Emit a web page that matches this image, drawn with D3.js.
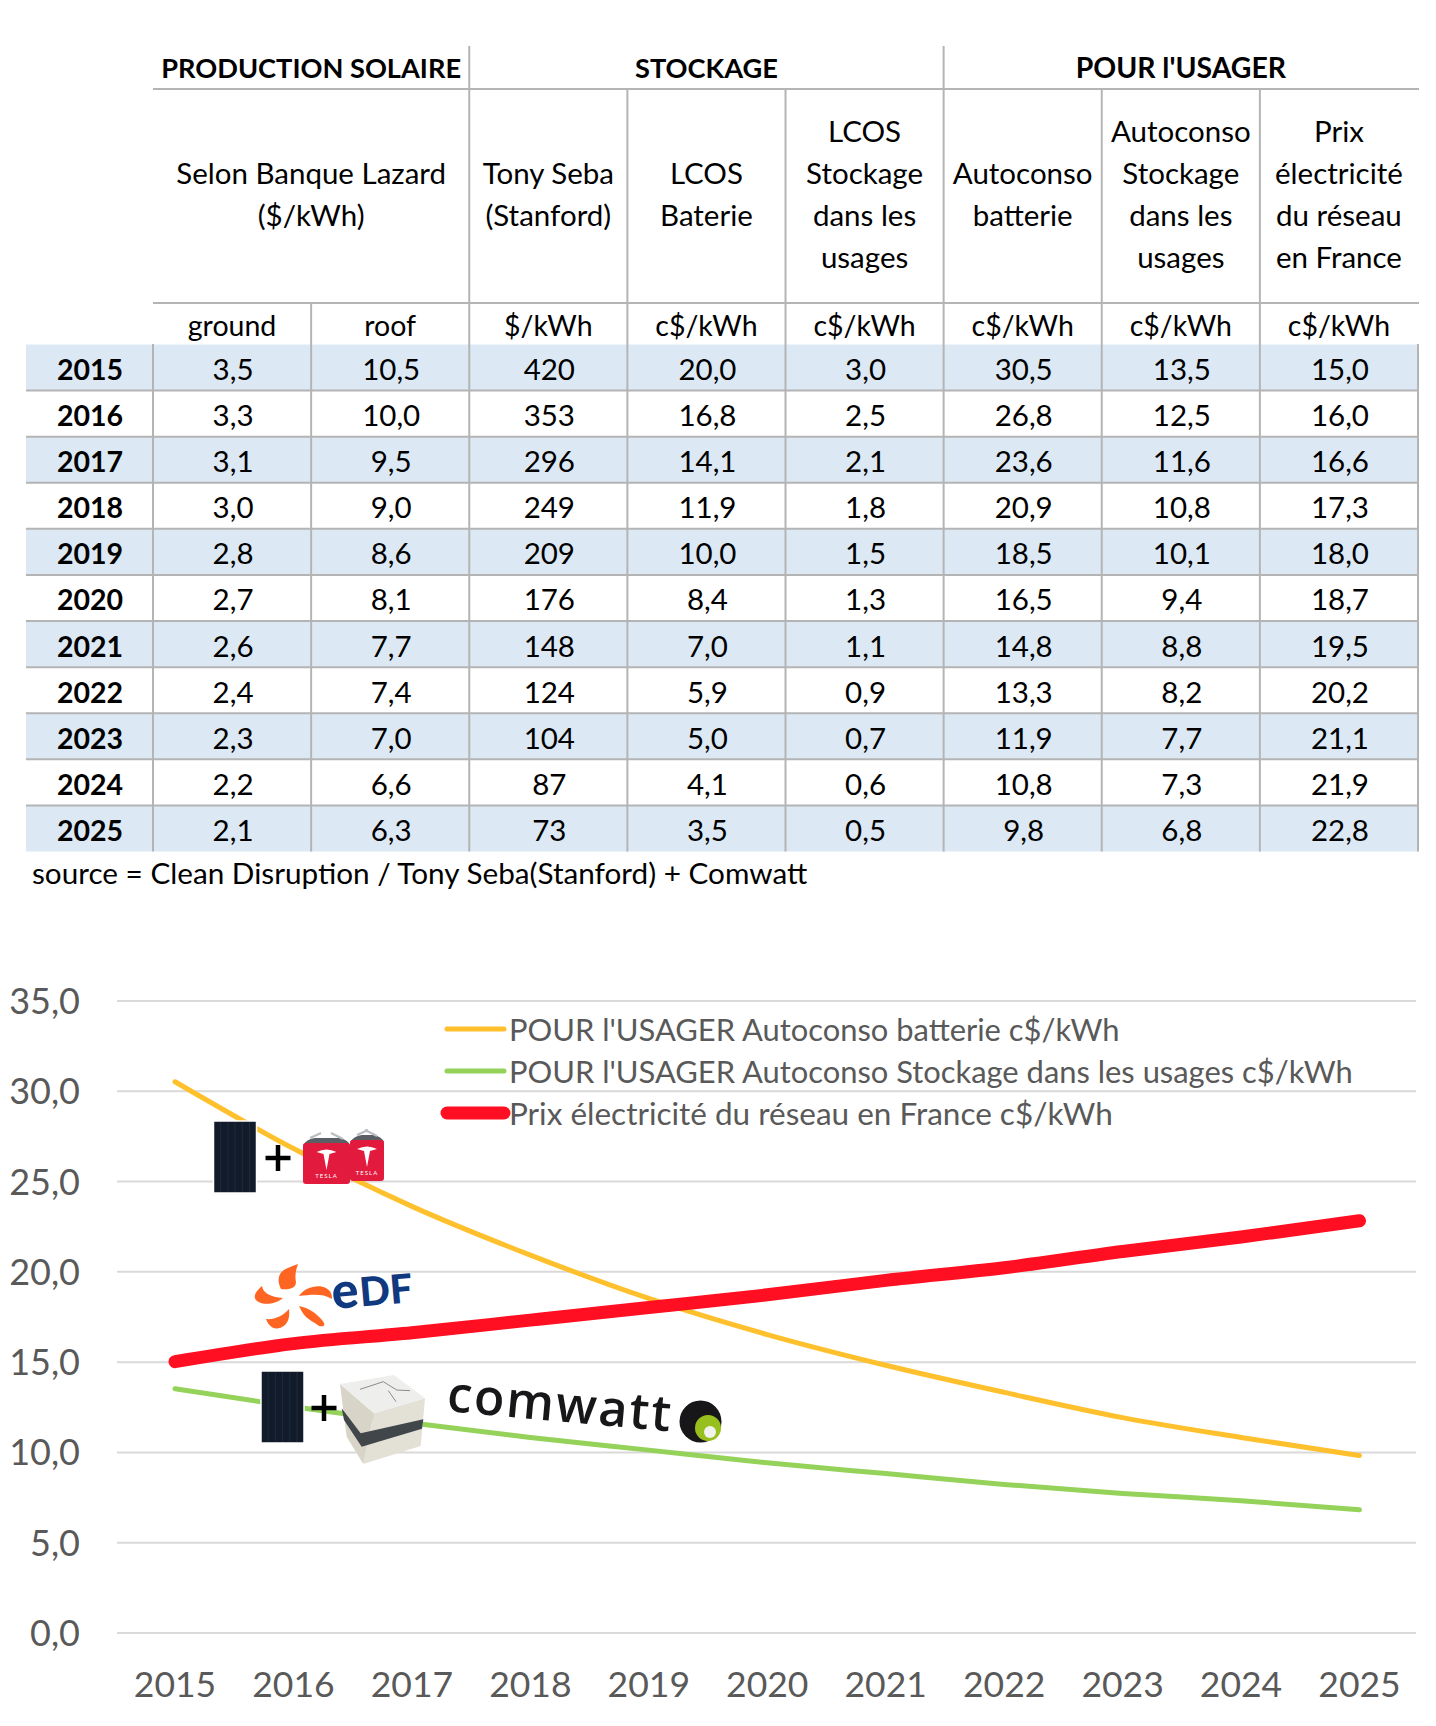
<!DOCTYPE html>
<html lang="fr">
<head>
<meta charset="utf-8">
<title>Production solaire, stockage, usager</title>
<script src="https://cdn.jsdelivr.net/npm/d3@7"></script>
<style>
  body { margin: 0; background: #fff; }
  svg { display: block; }
  text { font-family: Lato, "Open Sans", sans-serif; }
</style>
</head>
<body>
<svg id="chart" width="1436" height="1726"></svg>
<script>
// table + chart data
var years = [2015, 2016, 2017, 2018, 2019, 2020, 2021, 2022, 2023, 2024, 2025];
var ground = [3.5, 3.3, 3.1, 3.0, 2.8, 2.7, 2.6, 2.4, 2.3, 2.2, 2.1];
var roof = [10.5, 10.0, 9.5, 9.0, 8.6, 8.1, 7.7, 7.4, 7.0, 6.6, 6.3];
var seba = [420, 353, 296, 249, 209, 176, 148, 124, 104, 87, 73];
var lcosBatterie = [20.0, 16.8, 14.1, 11.9, 10.0, 8.4, 7.0, 5.9, 5.0, 4.1, 3.5];
var lcosUsages = [3.0, 2.5, 2.1, 1.8, 1.5, 1.3, 1.1, 0.9, 0.7, 0.6, 0.5];
var autoBatterie = [30.5, 26.8, 23.6, 20.9, 18.5, 16.5, 14.8, 13.3, 11.9, 10.8, 9.8];
var autoUsages = [13.5, 12.5, 11.6, 10.8, 10.1, 9.4, 8.8, 8.2, 7.7, 7.3, 6.8];
var prixReseau = [15.0, 16.0, 16.6, 17.3, 18.0, 18.7, 19.5, 20.2, 21.1, 21.9, 22.8];

var columns = [ground, roof, seba, lcosBatterie, lcosUsages, autoBatterie, autoUsages, prixReseau];
var groupHeads = ["PRODUCTION SOLAIRE", "STOCKAGE", "POUR l'USAGER"];
var colHeads = [
  ["Selon Banque Lazard", "($/kWh)"],
  ["Tony Seba", "(Stanford)"],
  ["LCOS", "Baterie"],
  ["LCOS", "Stockage", "dans les", "usages"],
  ["Autoconso", "batterie"],
  ["Autoconso", "Stockage", "dans les", "usages"],
  ["Prix", "électricité", "du réseau", "en France"]
];
var units = ["ground", "roof", "$/kWh", "c$/kWh", "c$/kWh", "c$/kWh", "c$/kWh", "c$/kWh"];
var yTicks = [0, 5, 10, 15, 20, 25, 30, 35];
var legendLabels = [
  "POUR l'USAGER Autoconso batterie c$/kWh",
  "POUR l'USAGER Autoconso Stockage dans les usages c$/kWh",
  "Prix électricité du réseau en France c$/kWh"
];

var svg = d3.select("#chart");
var frFormat = d3.formatLocale({ decimal: ",", thousands: " ", grouping: [3], currency: ["", "$"] }).format(".1f");

// ---- table ----
var colX = d3.scaleLinear().domain([0, 8]).range([153, 1418]);
var rowY = d3.scaleLinear().domain([0, 11]).range([344.5, 851.5]);
var lineColor = "#b4b4b4";
var table = svg.append("g");
var fs = 29.5;

function hline(x1, x2, y) {
  table.append("line").attr("x1", x1).attr("x2", x2).attr("y1", y).attr("y2", y)
    .attr("stroke", lineColor).attr("stroke-width", 2);
}
function vline(x, y1, y2) {
  table.append("line").attr("x1", x).attr("x2", x).attr("y1", y1).attr("y2", y2)
    .attr("stroke", lineColor).attr("stroke-width", 2);
}
function cell(x, y, str, bold, size) {
  return table.append("text").attr("x", x).attr("y", y).attr("text-anchor", "middle")
    .attr("font-size", size || fs).attr("font-weight", bold ? 700 : 400).attr("fill", "#000").text(str);
}

// striped rows
table.selectAll("rect.row").data(years.filter(function (d, i) { return i % 2 === 0; }))
  .enter().append("rect").attr("class", "row")
  .attr("x", 26).attr("width", 1393)
  .attr("y", function (d) { return rowY(years.indexOf(d)); })
  .attr("height", rowY(1) - rowY(0))
  .attr("fill", "#dce9f5");

hline(153, 1419, 89);
hline(153, 1419, 303);
years.forEach(function (y, i) { if (i > 0) hline(26, 1419, rowY(i)); });

[2, 5].forEach(function (c) { vline(colX(c), 46, 89); });
[2, 3, 4, 5, 6, 7].forEach(function (c) { vline(colX(c), 89, 303); });
[1, 2, 3, 4, 5, 6, 7].forEach(function (c) { vline(colX(c), 303, 344); });
[0, 1, 2, 3, 4, 5, 6, 7, 8].forEach(function (c) { vline(colX(c), 344, 851.5); });

// group titles
var groupSizes = [27.2, 27.2, 28.4];
[[0, 2], [2, 5], [5, 8]].forEach(function (span, i) {
  cell((colX(span[0]) + colX(span[1])) / 2, 78, groupHeads[i], true, groupSizes[i]);
});

// column heads, centred around the same line
var headSpans = [[0, 2], [2, 3], [3, 4], [4, 5], [5, 6], [6, 7], [7, 8]];
colHeads.forEach(function (lines, i) {
  var cx = (colX(headSpans[i][0]) + colX(headSpans[i][1])) / 2;
  var top = lines.length === 4 ? 142 : 184;
  lines.forEach(function (s, j) { cell(cx, top + j * 42, s); });
});

units.forEach(function (u, i) { cell(colX(i + 0.5), 336, u, false, 28.5); });

years.forEach(function (y, r) {
  cell(90, rowY(r) + 35.5, y, true, 28.5);
  columns.forEach(function (col, c) {
    cell(colX(c + 0.5) + 1, rowY(r) + 35.5, col === seba ? col[r] : frFormat(col[r]));
  });
});

table.append("text").attr("x", 32).attr("y", 884).attr("font-size", 29.7).attr("fill", "#000")
  .text("source = Clean Disruption / Tony Seba(Stanford) + Comwatt");

// ---- line chart ----
var x = d3.scaleBand().domain(years).range([115.8, 1418.7]);
var y = d3.scaleLinear().domain([0, 35]).range([1632.5, 1000.5]);
var px = function (d) { return x(d) + x.bandwidth() / 2; };
var grey = "#595959";

var yAxis = svg.append("g").attr("transform", "translate(117,0)")
  .call(d3.axisLeft(y).tickValues(yTicks).tickFormat(frFormat).tickSize(-1299).tickPadding(37));
yAxis.select(".domain").remove();
yAxis.selectAll(".tick line").attr("stroke", "#d9d9d9").attr("stroke-width", 2);
yAxis.selectAll(".tick text").attr("fill", grey).attr("font-size", 36).attr("dy", "0.36em")
  .style("font-family", "Lato");

var xAxis = svg.append("g").attr("transform", "translate(0,1697)")
  .call(d3.axisBottom(x).tickSize(0).tickPadding(0));
xAxis.select(".domain").remove();
xAxis.selectAll(".tick text").attr("fill", grey).attr("font-size", 35.5).attr("dy", 0)
  .style("font-family", "Lato");

var series = [
  { values: autoBatterie, color: "#ffc02d", width: 5 },
  { values: autoUsages, color: "#94d25a", width: 5 },
  { values: prixReseau, color: "#ff0f21", width: 13 }
];
var line = d3.line().curve(d3.curveMonotoneX)
  .x(function (d, i) { return px(years[i]); })
  .y(function (d) { return y(d); });

svg.append("g").selectAll("path").data(series).enter().append("path")
  .attr("fill", "none").attr("stroke-linecap", "round").attr("stroke-linejoin", "round")
  .attr("stroke", function (d) { return d.color; })
  .attr("stroke-width", function (d) { return d.width; })
  .attr("d", function (d) { return line(d.values); });

// legend
var legend = svg.append("g");
var legendSizes = [30.9, 30.9, 31.5];
series.forEach(function (s, i) {
  var ly = 1029 + i * 42;
  legend.append("line").attr("x1", 447).attr("x2", 504)
    .attr("y1", ly).attr("y2", ly).attr("stroke", s.color).attr("stroke-width", s.width)
    .attr("stroke-linecap", "round");
  legend.append("text").attr("x", 509).attr("y", ly + 12).attr("font-size", legendSizes[i])
    .attr("fill", grey).text(legendLabels[i]);
});

// ---- pictures pasted over the chart ----
function panel(g, px0, py0) {
  g.append("rect").attr("x", px0).attr("y", py0).attr("width", 43).attr("height", 72)
    .attr("fill", "#121b2a").attr("stroke", "#fff").attr("stroke-width", 1.5);
  g.selectAll(null).data([1, 2, 3, 4, 5]).enter().append("line")
    .attr("x1", function (d) { return px0 + d * 7.2; }).attr("x2", function (d) { return px0 + d * 7.2; })
    .attr("y1", py0 + 1).attr("y2", py0 + 71).attr("stroke", "#1e2a3d").attr("stroke-width", 1);
}
function plus(g, cx, cy) {
  g.append("path").attr("d", "M" + (cx - 12.5) + "," + cy + "H" + (cx + 12.5) + "M" + cx + "," + (cy - 13) + "V" + (cy + 13))
    .attr("stroke", "#000").attr("stroke-width", 4.5).attr("fill", "none");
}
function battery(g, x0, y0, w, h, size) {
  var mx = x0 + w / 2;
  g.append("path").attr("d", "M" + x0 + "," + (y0 + 6) + "Q" + (x0 + 4) + "," + y0 + " " + (x0 + 12) + "," + (y0 - 1) + "H" + (x0 + w - 10) + "Q" + (x0 + w - 2) + "," + (y0 + 1) + " " + (x0 + w) + "," + (y0 + 6) + "Z")
    .attr("fill", "#5a5f66");
  g.append("path").attr("d", "M" + (x0 + 7) + "," + (y0 - 1) + "L" + (x0 + 18) + "," + (y0 - 6) + "M" + (x0 + w - 7) + "," + y0 + "L" + (x0 + w - 19) + "," + (y0 - 6))
    .attr("stroke", "#b9bcc0").attr("stroke-width", 2);
  g.append("rect").attr("x", x0).attr("y", y0 + 4).attr("width", w).attr("height", h - 4).attr("rx", 3).attr("fill", "#e21a3e");
  g.append("path").attr("d", "M" + (mx - 10) + "," + (y0 + 13) + "Q" + mx + "," + (y0 + 8) + " " + (mx + 10) + "," + (y0 + 13) + "L" + (mx + 3) + "," + (y0 + 15) + "L" + mx + "," + (y0 + 31) + "L" + (mx - 3) + "," + (y0 + 15) + "Z")
    .attr("fill", "#fff");
  g.append("text").attr("x", mx).attr("y", y0 + 39).attr("text-anchor", "middle")
    .attr("font-size", size).attr("letter-spacing", 1).attr("fill", "#fff").text("TESLA");
}

var pics = svg.append("g");
panel(pics, 213.5, 1121);
plus(pics, 278, 1158);
battery(pics, 350, 1136, 34, 45, 6);
battery(pics, 303, 1139, 47, 45, 6);

panel(pics, 261, 1371);
plus(pics, 324, 1408);

// storage cube
function pts(list) {
  return list.map(function (p) { return (250 + p[0] / 3) + "," + (1370 + p[1] / 3); }).join(" ");
}
pics.append("polygon").attr("points", pts([[270, 42], [372, 130], [340, 282], [290, 200]])).attr("fill", "#d8d4c8");
pics.append("polygon").attr("points", pts([[372, 130], [525, 85], [512, 228], [340, 282]])).attr("fill", "#e3e0d6");
pics.append("polygon").attr("points", pts([[270, 42], [432, 15], [525, 85], [372, 130]])).attr("fill", "#eeeeec");
pics.append("polygon").attr("points", pts([[275, 115], [332, 190], [520, 148], [516, 176], [335, 230], [282, 150]])).attr("fill", "#41464a");
pics.append("path").attr("d", "M" + pts([[330, 58], [400, 35], [440, 60], [480, 62]]).split(" ").join("L")
  + "M" + pts([[415, 62], [438, 95]]).split(" ").join("L"))
  .attr("fill", "none").attr("stroke", "#8a8c8c").attr("stroke-width", 1);

// edf logo
pics.append("g").attr("fill", "#ff6522").selectAll("path").data([
  "M281,1289 C276,1279 279,1271 288,1268 C291,1267 294,1265 298,1264 C295,1272 295,1278 296,1282 C296,1288 290,1290 281,1289Z",
  "M299,1296 C305,1287 318,1284 326,1288 C331,1291 332,1294 332,1299 C322,1293 311,1295 299,1296Z",
  "M299,1306 C309,1308 316,1313 322,1320 C326,1325 325,1327 319,1326 C314,1322 309,1320 306,1317 C303,1314 301,1310 299,1306Z",
  "M289,1309 C290,1318 288,1324 282,1327 C276,1330 270,1329 266,1319 C274,1320 283,1316 289,1309Z",
  "M283,1298 C276,1304 264,1306 257,1301 C253,1298 254,1293 262,1286 C263,1293 270,1297 283,1298Z"
]).enter().append("path").attr("d", function (d) { return d; });
var edfText = pics.append("text").attr("transform", "translate(333,1309) rotate(-5)")
  .attr("font-weight", 900).attr("fill", "#10397f");
edfText.append("tspan").attr("font-size", 50).text("e");
edfText.append("tspan").attr("font-size", 40).attr("dx", 1).text("DF");

// comwatt logo
pics.append("text").attr("transform", "translate(446,1411) rotate(5.2)")
  .attr("font-size", 50).attr("font-weight", 600).attr("letter-spacing", 2).attr("fill", "#17171a")
  .style("font-family", "'Open Sans'").text("comwatt");
pics.append("circle").attr("cx", 700.5).attr("cy", 1421.5).attr("r", 21).attr("fill", "#17171a");
pics.append("circle").attr("cx", 708).attr("cy", 1428).attr("r", 13).attr("fill", "#97bf1e");
pics.append("circle").attr("cx", 710).attr("cy", 1432).attr("r", 6).attr("fill", "#f2f2f0");
</script>
</body>
</html>
